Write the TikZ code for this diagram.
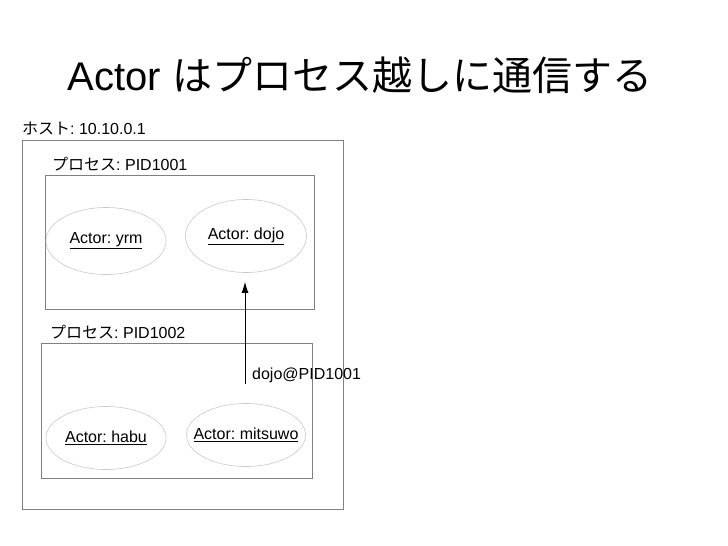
\documentclass[tikz,border=0pt]{standalone}
\usepackage{fontspec}
\setmainfont{Liberation Sans}
\newfontfamily\jp{Noto Sans CJK JP}
\frenchspacing
\usetikzlibrary{shapes.geometric,arrows.meta}
\definecolor{box_gray}{RGB}{128, 128, 128}
\definecolor{actor_gray}{RGB}{200, 200, 200}
\tikzstyle{proc}=[rectangle,draw=box_gray,line width=0.9pt,inner sep=0pt]
\tikzstyle{actor}=[ellipse,draw=actor_gray,line width=0.6pt,inner sep=0pt,
  label={[inner sep=0pt,font=\fontsize{16}{19}\selectfont]center:\underline{\actorname}}]
\tikzstyle{lbl}=[inner sep=0pt,anchor=base west,font=\fontsize{16}{19}\selectfont]
\tikzstyle{none}=[]
\newcommand{\actorname}{}

\begin{document}
\begin{tikzpicture}[x=1pt, y=-1pt]
  \useasboundingbox (0, 0) rectangle (728, 546);
  \node [style=none, inner sep=0pt, anchor=base, font=\fontsize{40}{48}\selectfont]
    (0) at (360, 90) {Actor {\jp はプロセス越しに通信する}};
  % host and processes
  \node [style=proc, minimum width=321pt, minimum height=369pt] (1) at (182.5, 324.5) {};
  \node [style=lbl] (2) at (22, 134) {{\jp ホスト}: 10.10.0.1};
  \node [style=proc, minimum width=269pt, minimum height=134pt] (3) at (179.5, 242) {};
  \node [style=lbl] (4) at (52, 170) {{\jp プロセス}: PID1001};
  \node [style=proc, minimum width=271pt, minimum height=135pt] (5) at (176.5, 410.5) {};
  \node [style=lbl] (6) at (50, 338) {{\jp プロセス}: PID1002};
  % actors
  \renewcommand{\actorname}{Actor: yrm}
  \node [style=actor, minimum width=120pt, minimum height=67pt] (7) at (106, 241) {};
  \renewcommand{\actorname}{Actor: dojo}
  \node [style=actor, minimum width=121pt, minimum height=73pt] (8) at (246, 236) {};
  \renewcommand{\actorname}{Actor: habu}
  \node [style=actor, minimum width=120pt, minimum height=63pt] (9) at (106, 438) {};
  \renewcommand{\actorname}{Actor: mitsuwo}
  \node [style=actor, minimum width=119pt, minimum height=63pt] (10) at (246, 435) {};
  \node [style=lbl] (11) at (252, 379) {dojo@PID1001};
  \draw [line width=1pt, -{Latex[length=11pt, width=7pt]}, shorten <=19pt, shorten >=9pt]
    ([xshift=-1pt]10.north) to ([xshift=-1pt]8.south);
\end{tikzpicture}
\end{document}
